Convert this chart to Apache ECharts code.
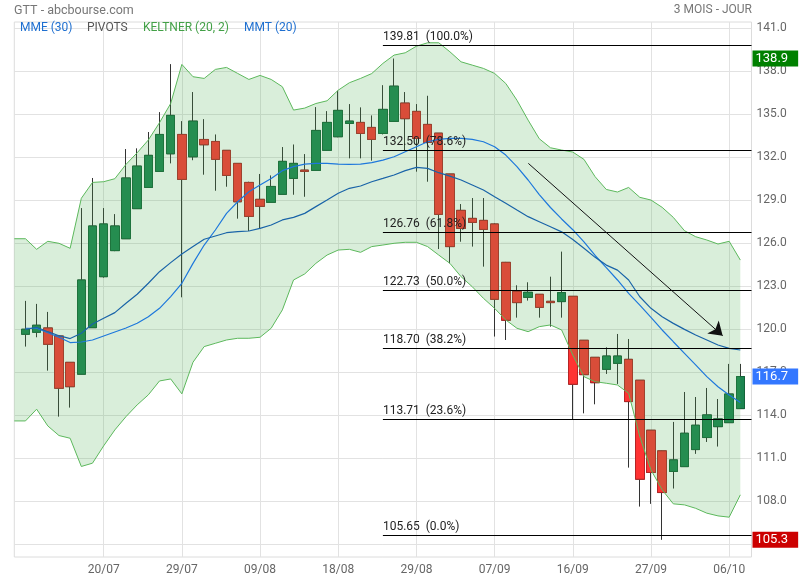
<!DOCTYPE html>
<html>
<head>
<meta charset="utf-8">
<script src="https://cdn.jsdelivr.net/npm/echarts@6/dist/echarts.min.js"></script>
<style>html,body{margin:0;padding:0;background:#fff}#c{width:800px;height:580px}</style>
</head>
<body>
<div id="c"></div>
<script>
const dates = ['08/07','11/07','12/07','13/07','14/07','15/07','18/07','19/07','20/07','21/07','22/07','25/07','26/07','27/07','28/07','29/07',
'01/08','02/08','03/08','04/08','05/08','08/08','09/08','10/08','11/08','12/08','15/08','16/08','17/08','18/08','19/08','22/08','23/08','24/08','25/08','26/08','29/08','30/08','31/08',
'01/09','02/09','05/09','06/09','07/09','08/09','09/09','12/09','13/09','14/09','15/09','16/09','19/09','20/09','21/09','22/09','23/09','26/09','27/09','28/09','29/09','30/09',
'03/10','04/10','05/10','06/10','07/10','10/10'];
const labelDates = ['20/07','29/07','09/08','18/08','29/08','07/09','16/09','27/09','06/10'];
const yTicks = [105,108,111,114,117,120,123,126,129,132,135,138,141];

// [open, close, low, high]
const ohlc = [
null,
[119.65,120.00,118.79,121.98],[119.79,120.28,119.44,121.77],[120.09,118.95,117.11,121.21],[119.53,115.88,113.90,119.60],[117.69,115.99,114.53,117.70],
[116.86,123.44,116.85,128.46],[120.11,127.21,120.10,130.56],[123.67,127.35,123.60,128.46],[125.49,127.21,125.45,128.04],[126.32,130.56,126.30,132.58],
[128.42,131.39,128.40,132.63],[129.90,132.14,129.90,133.77],[131.02,133.60,131.00,135.16],[132.25,134.93,131.58,138.51],[133.60,130.46,122.23,134.53],
[132.04,134.53,131.80,136.56],[133.25,132.88,130.79,134.67],[133.11,131.86,129.67,133.60],[132.49,130.74,129.95,132.50],[131.58,128.90,127.72,131.60],
[130.25,127.88,126.86,130.30],[129.07,128.58,127.04,130.84],[128.86,129.97,128.85,130.74],[129.42,131.72,129.40,132.72],[130.53,131.58,129.39,132.90],
[131.11,131.02,129.25,132.23],[131.09,133.88,131.05,135.51],[132.49,134.44,132.45,135.23],[133.44,135.28,133.40,136.65],[134.37,134.53,131.93,135.72],
[134.44,133.67,131.93,135.49],[134.09,133.25,131.77,134.93],[133.67,135.35,133.60,137.04],[134.51,136.97,134.50,138.90],[135.79,134.70,132.51,136.56],
[135.21,133.32,131.00,135.72],[134.30,133.04,130.30,136.30],[133.69,128.02,125.60,133.70],[130.84,125.77,124.60,130.85],[128.30,127.04,126.11,128.74],
[127.74,127.46,125.77,129.16],[127.60,126.97,124.37,129.16],[127.35,122.09,119.49,127.40],[124.67,120.63,119.25,124.70],[122.65,121.86,120.81,123.07],
[122.23,122.58,122.00,123.28],[122.44,121.53,120.81,122.45],[121.95,121.86,120.18,123.67],[121.93,122.56,120.81,125.42],[122.30,116.16,113.67,122.30],
[119.23,116.83,114.13,119.25],[118.04,116.27,114.76,118.05],[117.20,118.13,116.88,118.74],[117.62,118.13,116.18,119.67],[117.90,114.95,110.34,119.32],
[116.44,109.53,107.62,116.45],[112.95,110.00,107.81,112.96],[111.51,108.60,105.30,111.52],[110.07,110.88,108.88,113.53],[110.41,112.74,110.40,115.62],
[111.60,113.30,111.30,115.27],[112.44,114.02,112.13,115.90],[113.20,113.74,111.81,115.13],[113.48,115.48,113.47,117.58],[114.46,116.70,114.45,117.58],
null
];

const keltnerUpper = [126.32,126.32,125.58,126.14,126.00,125.65,129.14,130.25,130.30,130.51,131.51,132.32,133.21,134.42,135.76,138.49,
137.63,137.51,138.14,138.28,137.86,137.44,137.72,137.44,136.93,135.30,135.44,135.76,135.95,136.69,137.21,137.51,137.85,138.56,139.14,139.30,139.76,140.00,140.00,
139.37,138.67,138.44,138.21,137.86,137.16,135.99,134.60,133.30,132.67,132.51,132.37,131.86,130.65,129.76,129.58,129.90,129.21,129.02,128.51,127.81,126.88,
126.46,126.23,125.95,126.14,124.83,null];
const keltnerLower = [113.60,113.60,114.42,113.25,112.58,112.39,110.42,110.65,111.86,112.97,113.90,114.72,115.42,116.39,116.53,115.49,
117.70,118.79,119.02,119.25,119.37,119.37,119.44,120.07,121.35,123.44,123.86,124.60,125.18,125.53,125.58,125.37,125.77,125.88,126.00,126.07,126.07,125.77,125.18,
124.60,123.67,122.97,122.16,121.46,120.65,120.07,119.83,120.18,120.30,119.95,118.20,116.69,116.34,116.23,116.11,115.53,112.50,110.18,108.79,107.81,107.74,
107.50,107.16,106.97,106.88,108.44,null];

const mmt20 = [null,120.07,120.07,119.76,119.44,119.07,119.11,119.25,119.53,119.81,120.09,120.42,120.88,121.46,122.28,123.21,
124.60,125.88,126.93,128.09,128.90,129.60,130.07,130.53,131.07,131.35,131.53,131.58,131.58,131.53,131.51,131.53,131.63,131.81,132.04,132.39,132.74,133.09,133.25,
133.32,133.32,133.25,133.09,132.74,132.16,131.35,130.42,129.40,128.50,127.70,126.95,126.10,125.15,124.30,123.44,122.51,121.69,120.83,119.95,119.13,118.32,
117.51,116.69,115.99,115.41,114.88,null];
const mme30 = [null,119.98,120.14,119.83,119.55,119.35,119.72,120.37,120.77,121.16,121.81,122.44,123.21,124.02,124.65,125.25,
125.77,126.28,126.51,126.74,126.81,126.86,127.04,127.28,127.63,127.81,128.09,128.56,129.02,129.49,129.84,130.00,130.30,130.53,130.77,131.07,131.30,131.23,130.93,
130.69,130.42,130.07,129.72,129.25,128.79,128.32,127.86,127.51,127.16,126.80,126.27,125.65,125.02,124.48,124.13,123.44,122.27,121.46,120.88,120.41,119.99,
119.60,119.25,118.90,118.67,118.55,null];

const fibLevels = [139.81,132.50,126.76,122.73,118.70,113.71,105.65];
const fibPercents = ['100.0%','78.6%','61.8%','50.0%','38.2%','23.6%','0.0%'];
const fibStartDate = '24/08';
const valueMarks = [138.9, 116.7, 105.3];   // plus haut, dernier, plus bas
const arrowStart = [46.02, 131.58];
const arrowEnd = [63.42, 119.55];

const UP = '#1b8450', DOWN = '#ff3333';
const fmt = v => v.toFixed(1);

const wickData = ohlc.map(d => d ? d : '-');
const bodyData = ohlc.map(d => d ? [d[0], d[1], Math.min(d[0], d[1]), Math.max(d[0], d[1])] : '-');
const keltnerDiff = keltnerUpper.map((u, i) => (u == null || keltnerLower[i] == null) ? null : +(u - keltnerLower[i]).toFixed(2));
const fibStart = dates.indexOf(fibStartDate);
const lastIdx = dates.length - 1;
const labelIdx = new Set(labelDates.map(d => dates.indexOf(d)));
const showIdx = (i) => labelIdx.has(i);

const font = 'Roboto';
const tStyle = (size, color) => ({fontFamily: font, fontSize: size, fontWeight: 'normal', color: color});
const chart = echarts.init(document.getElementById('c'), null, {renderer: 'canvas'});
const option = {
  animation: false,
  textStyle: {fontFamily: font},
  title: [
    {text: 'GTT - abcbourse.com', left: 14, top: 4, padding: 0, textStyle: tStyle(12.5, '#777')},
    {text: '3 MOIS - JOUR', right: 48, top: 4, padding: 0, textStyle: tStyle(12, '#777')},
    {text: 'MME (30)', left: 20, top: 22, padding: 0, textStyle: tStyle(12, '#1e6fd0')},
    {text: 'PIVOTS', left: 87, top: 22, padding: 0, textStyle: tStyle(12, '#555')},
    {text: 'KELTNER (20, 2)', left: 143, top: 22, padding: 0, textStyle: tStyle(12, '#43a047')},
    {text: 'MMT (20)', left: 244, top: 22, padding: 0, textStyle: tStyle(12, '#1e6fd0')}
  ],
  grid: {left: 14.3, right: 48.5, top: 22, bottom: 23, show: true, borderColor: '#dcdcdc', borderWidth: 1},
  xAxis: [
    {type: 'category', data: dates, boundaryGap: false,
     axisLine: {show: false}, axisTick: {show: false},
     axisLabel: {interval: showIdx, color: '#666', fontSize: 12, fontFamily: font, margin: 7},
     splitLine: {show: true, interval: showIdx, lineStyle: {color: '#e2e2e2', width: 1}}},
    {type: 'value', min: 0, max: lastIdx, show: false}
  ],
  yAxis: {type: 'value', position: 'right', min: 104.1, max: 141.45,
    axisLine: {show: false},
    axisTick: {show: false, customValues: yTicks},
    axisLabel: {customValues: yTicks, formatter: fmt, color: '#666', fontSize: 12, fontFamily: font, margin: 5},
    splitLine: {lineStyle: {color: '#e2e2e2', width: 1}}},
  series: [
    {type: 'candlestick', name: 'wicks', data: wickData, barWidth: 9, z: 1, silent: true,
     itemStyle: {color: UP, color0: DOWN, borderColor: '#333', borderColor0: '#333', borderWidth: 1}},
    {type: 'candlestick', name: 'GTT', data: bodyData, barWidth: 9, z: 1, silent: true,
     itemStyle: {color: UP, color0: DOWN, borderColor: '#136338', borderColor0: '#b52525', borderWidth: 1}},
    {type: 'line', name: 'KELTNER low', data: keltnerLower, stack: 'k', symbol: 'none', z: 3, silent: true,
     lineStyle: {color: '#5cb85c', width: 1}},
    {type: 'line', name: 'KELTNER (20, 2)', data: keltnerDiff, stack: 'k', symbol: 'none', z: 3, silent: true,
     lineStyle: {color: '#5cb85c', width: 1}, areaStyle: {color: 'rgba(76,175,80,0.3)'}},
    {type: 'line', name: 'MMT (20)', data: mmt20, symbol: 'none', z: 4, silent: true,
     lineStyle: {color: '#1e78dc', width: 1.2}},
    {type: 'line', name: 'MME (30)', data: mme30, symbol: 'none', z: 4, silent: true,
     lineStyle: {color: '#1a64a8', width: 1.2}},
    {type: 'line', name: 'PIVOTS', data: [], z: 5, silent: true,
     markLine: {silent: true, symbol: ['none', 'none'], animation: false,
       lineStyle: {color: '#000', width: 1, type: 'solid'},
       label: {show: true, position: 'insideStartTop', distance: [0, 2], color: '#222', fontSize: 12, fontFamily: font},
       data: fibLevels.map((lv, i) => [
         {coord: [fibStart, lv], label: {formatter: lv.toFixed(2) + '  (' + fibPercents[i] + ')'}},
         {coord: [lastIdx, lv]}
       ])}},
    {type: 'line', name: 'VALEURS', data: [], z: 6, silent: true,
     markLine: {silent: true, symbol: ['none', 'none'], animation: false,
       lineStyle: {color: 'rgba(0,0,0,0)', width: 0},
       label: {show: true, position: 'end', distance: 1, color: '#fff', fontSize: 13, fontFamily: font,
               padding: [2, 10, 1, 3], opacity: 1},
       data: valueMarks.map((v, i) => ({yAxis: v,
         label: {formatter: fmt(v), backgroundColor: ['#008000', '#3377ff', '#cc0000'][i]}}))}},
    {type: 'lines', name: 'fleche', coordinateSystem: 'cartesian2d', xAxisIndex: 1, yAxisIndex: 0, z: 6, silent: true,
     symbol: ['none', 'arrow'], symbolSize: [9, 13],
     lineStyle: {color: '#111', width: 1, opacity: 1},
     data: [{coords: [arrowStart, arrowEnd]}]}
  ]
};
chart.setOption(option);
</script>
</body>
</html>
